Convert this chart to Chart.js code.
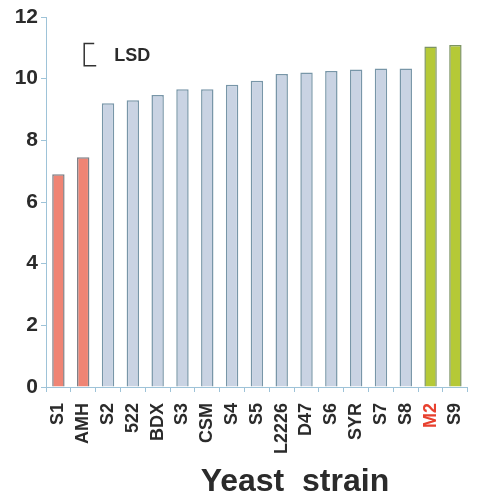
<!DOCTYPE html>
<html>
<head>
<meta charset="utf-8">
<script src="https://cdn.jsdelivr.net/npm/chart.js@4"></script>
<style>
html,body{margin:0;padding:0;background:#fff;}
#wrap{width:488px;height:499px;position:relative;}
</style>
</head>
<body>
<div id="wrap"><canvas id="c" width="488" height="499"></canvas></div>
<script>
const categories = ['S1','AMH','S2','522','BDX','S3','CSM','S4','S5','L2226','D47','S6','SYR','S7','S8','M2','S9'];
const values = [6.9, 7.45, 9.2, 9.3, 9.47, 9.66, 9.66, 9.8, 9.93, 10.15, 10.2, 10.25, 10.3, 10.33, 10.33, 11.04, 11.09];
const groups = ['low','low','mid','mid','mid','mid','mid','mid','mid','mid','mid','mid','mid','mid','mid','high','high'];
const highlightedLabels = ['M2'];
const yTicks = [0, 2, 4, 6, 8, 10, 12];
const lsdValue = 0.72;
const lsdTop = 11.14;
const axisTitle = 'Yeast  strain';

const groupFill = {low:'#ef8474', mid:'#c9d3e3', high:'#b5c937'};
const groupBorder = {low:'#7d7f86', mid:'#7896a8', high:'#7c9462'};

const lsdPlugin = {
  id:'lsd',
  afterDatasetsDraw(chart){
    const {ctx, scales:{x, y}} = chart;
    const x0 = x.getPixelForValue(1) + 1;
    const yT = y.getPixelForValue(lsdTop);
    const yB = y.getPixelForValue(lsdTop - lsdValue);
    ctx.save();
    ctx.strokeStyle = '#333';
    ctx.lineWidth = 1.5;
    ctx.beginPath();
    ctx.moveTo(x0 + 10, yT);
    ctx.lineTo(x0, yT);
    ctx.lineTo(x0, yB);
    ctx.lineTo(x0 + 12, yB);
    ctx.stroke();
    ctx.fillStyle = '#2b2b2b';
    ctx.font = 'bold 18px "Liberation Sans", Arial, sans-serif';
    ctx.textBaseline = 'middle';
    ctx.fillText('LSD', x0 + 30, (yT + yB) / 2 + 1);
    ctx.restore();
  }
};

const titlePlugin = {
  id:'xtitle',
  afterDraw(chart){
    const {ctx, chartArea} = chart;
    ctx.save();
    ctx.fillStyle = '#2b2b2b';
    ctx.font = 'bold 32px "Liberation Sans", Arial, sans-serif';
    ctx.textAlign = 'center';
    ctx.textBaseline = 'middle';
    ctx.fillText(axisTitle, (chartArea.left + chartArea.right) / 2 + 38, chartArea.bottom + 95);
    ctx.restore();
  }
};

new Chart(document.getElementById('c'), {
  type:'bar',
  data:{
    labels: categories,
    datasets:[{
      data: values,
      backgroundColor: groups.map(g => groupFill[g]),
      borderColor: groups.map(g => groupBorder[g]),
      borderWidth: 1.5,
      barPercentage: 0.5,
      categoryPercentage: 1.0
    }]
  },
  options:{
    responsive:false,
    animation:false,
    layout:{padding:{top:17, left:0, right:0, bottom:0}},
    plugins:{legend:{display:false}, tooltip:{enabled:false}},
    scales:{
      x:{
        grid:{display:true, drawOnChartArea:false, color:'#9ec3d8', tickLength:5, offset:true},
        border:{display:true, color:'#9ec3d8', width:1},
        ticks:{
          autoSkip:false, minRotation:90, maxRotation:90, padding:11,
          color:(c) => highlightedLabels.includes(categories[c.index]) ? '#e8402e' : '#2b2b2b',
          font:{family:'"Liberation Sans", Arial, sans-serif', size:18, weight:'bold'}
        },
        afterFit(s){ s.height = 112; }
      },
      y:{
        min:0, max:12,
        afterBuildTicks(s){ s.ticks = yTicks.map(v => ({value:v})); },
        grid:{display:true, drawOnChartArea:false, color:'#9ec3d8', tickLength:5},
        border:{display:true, color:'#9ec3d8', width:1},
        ticks:{
          padding:3, color:'#2b2b2b',
          font:{family:'"Liberation Sans", Arial, sans-serif', size:21, weight:'bold'}
        },
        afterFit(s){ s.width = 46; }
      }
    }
  },
  plugins:[lsdPlugin, titlePlugin]
});
</script>
</body>
</html>
